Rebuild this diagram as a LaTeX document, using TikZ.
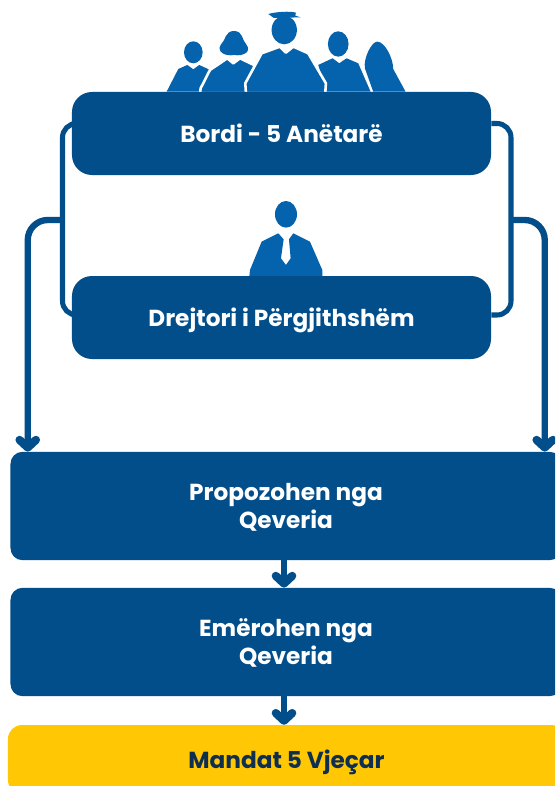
\documentclass[tikz,border=0pt]{standalone}
\usepackage{fontspec}
\setmainfont{Poppins}
\usepackage{tikz}
\usetikzlibrary{arrows.meta,calc}
\definecolor{BoxBlue}{HTML}{024E8A}
\definecolor{PersonBlue}{HTML}{0563AE}
\definecolor{MandatYellow}{HTML}{FFC704}
\definecolor{MandatInk}{HTML}{0E2F50}
\tikzset{
  box/.style={fill=BoxBlue,text=white,inner sep=0,align=center,
    font=\fontsize{19.8}{24.7}\selectfont\bfseries},
  topbox/.style={box,minimum width=12.57cm,minimum height=2.49cm,rounded corners=.6cm,
    text height=19pt,text depth=3pt},
  lowbox/.style={box,minimum width=16.53cm,minimum height=3.25cm,rounded corners=.36cm,
    text height=44pt,text depth=4.8pt},
  rail/.style={draw=BoxBlue,line width=4.3pt,rounded corners=.42cm},
  feed/.style={draw=BoxBlue,line width=5.4pt,rounded corners=.6cm,
    -{Straight Barb[length=6.5pt,width=14pt,round,line width=7pt]}},
  person/.style={fill=PersonBlue},
  gap/.style={person,draw=white,line width=2.2pt,line join=round},
}
\begin{document}
\begin{tikzpicture}[x=.03cm,y=-.03cm]
    \clip (0,0) rectangle (555,786);
    \fill[white] (0,0) rectangle (555,786);

    % board members
    \begin{scope}[shift={(150,0)},x=.01cm,y=-.01cm]
    \fill[person] (130,157) ellipse (28 and 33);
    \fill[person] (50,275) -- (85,207) -- (112,195) -- (130,208) -- (148,195) -- (180,210) -- (180,275) -- cycle;
    \fill[person] (670,275) -- (645,205) .. controls (640,175) and (665,125) .. (682,125)
        .. controls (705,125) and (730,175) .. (730,207) -- (767,275) -- cycle;
    \fill[person] (565,132) ellipse (31 and 38);
    \fill[person] (505,195) -- (548,175) -- (568,190) -- (590,175) -- (625,190) -- (662,275) -- (530,275) -- cycle;
    \draw[gap] (150,280) -- (152,265) -- (180,210) -- (232,175) -- (250,190) -- (270,175) -- (312,195) -- (320,280) -- cycle;
    \fill[person] (252,93) .. controls (225,93) and (228,120) .. (212,135)
        .. controls (200,155) and (225,170) .. (252,165)
        .. controls (280,170) and (305,155) .. (290,135)
        .. controls (275,120) and (280,93) .. (252,93) -- cycle;
    \draw[gap] (288,280) -- (286,250) -- (335,160) -- (390,140) -- (408,158) -- (430,140) -- (475,160) -- (528,250) -- (526,280) -- cycle;
    \fill[person] (403,90) ellipse (38 and 43);
    \fill[person] (355,42) .. controls (380,35) and (420,33) .. (438,38) -- (436,47) -- (452,52) -- (372,54) -- cycle;
    \end{scope}

    % general director
    \begin{scope}[shift={(225,190)},x=.01cm,y=-.01cm]
    \fill[person] (183,73) ellipse (33 and 40);
    \fill[person] (73,260) -- (75,240) -- (110,155) -- (160,130) -- (176,148) -- (168,205) -- (183,225)
        -- (197,205) -- (192,148) -- (205,130) -- (255,155) -- (292,240) -- (292,260) -- cycle;
    \end{scope}

    \node[topbox] (bordi) at (281.5,133.5) {Bordi - 5 Anëtarë};
    \node[topbox] (drejtori) at (281.5,317.5) {Drejtori i Përgjithshëm};
    \node[lowbox] (propozohen) at (286,506) {Propozohen nga\\Qeveria};
    \node[lowbox] (emerohen) at (286,642) {Emërohen nga\\Qeveria};
    \node[lowbox,fill=MandatYellow,text=MandatInk,minimum width=16.71cm,minimum height=2.07cm,rounded corners=.42cm,text height=18pt,text depth=3.5pt] (mandat) at (286.5,759.5) {Mandat 5 Vjeçar};

    \coordinate (railL) at (62.5,220);
    \coordinate (railR) at (511,220);

    \draw[rail] ($(bordi.west)+(0,-10)$) -| (railL) |- ($(drejtori.west)+(0,-2.5)$);
    \draw[rail] ($(bordi.east)+(0,-10)$) -| (railR) |- ($(drejtori.east)+(0,-2.5)$);
    \draw[feed] (railL) -| ($(propozohen.north west)+(17.5,0)$);
    \draw[feed] (railR) -| ($(propozohen.north east)+(-17,0)$);

    \draw[feed] ($(propozohen.south)+(-2,0)$) -- ($(emerohen.north)+(-2,0)$);
    \draw[feed] ($(emerohen.south)+(-2,0)$) -- ($(mandat.north)+(-2.5,0)$);
\end{tikzpicture}
\end{document}
